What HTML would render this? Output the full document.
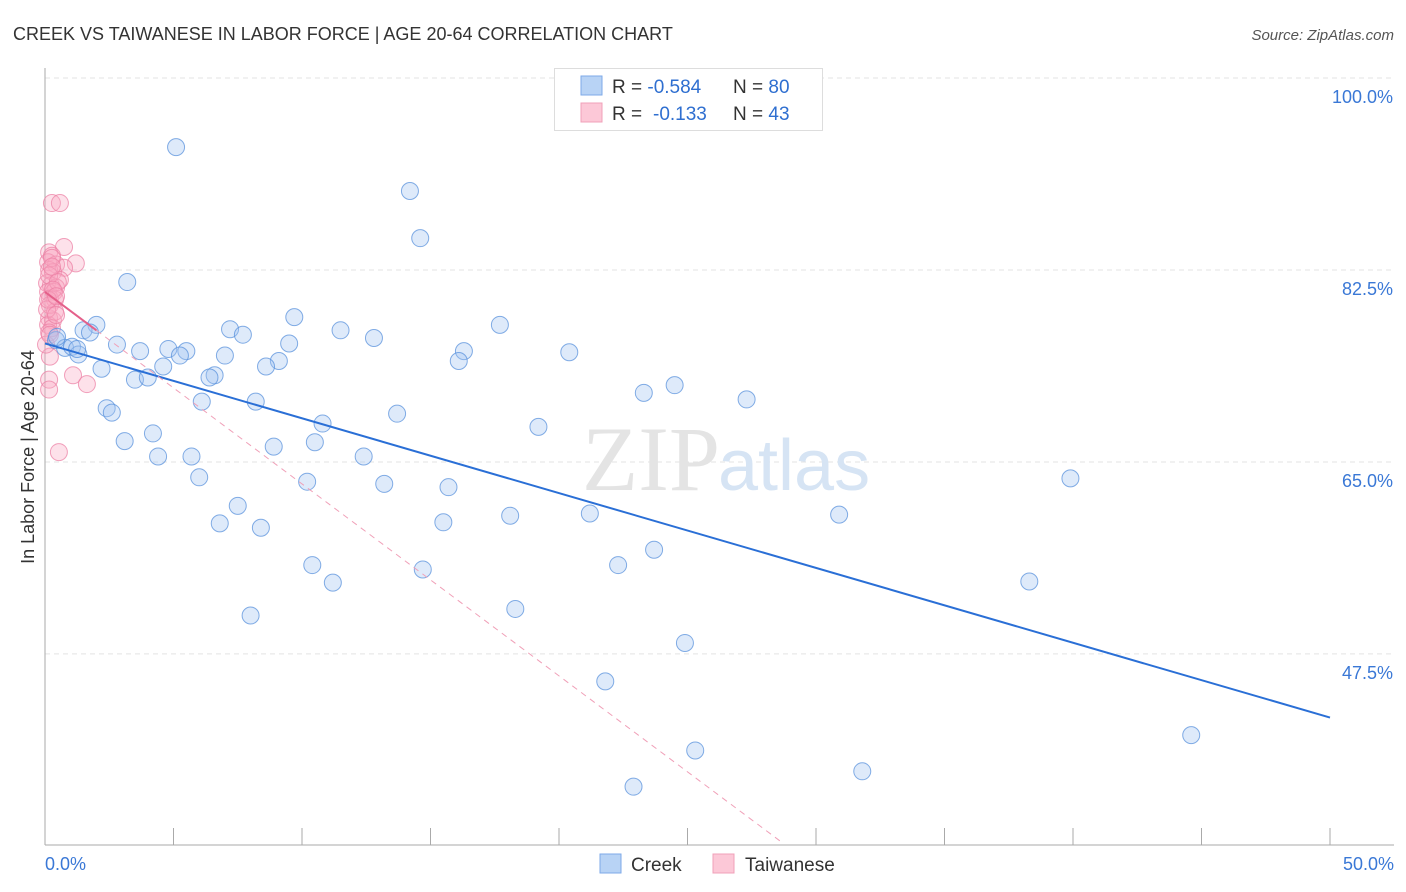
<!DOCTYPE html>
<html><head><meta charset="utf-8"><style>
body{margin:0;background:#fff;font-family:"Liberation Sans",sans-serif;}
svg{display:block}
</style></head><body>
<svg id="chart" width="1406" height="892" xmlns="http://www.w3.org/2000/svg" font-family="Liberation Sans, sans-serif">
<text x="13" y="40" font-size="18" fill="#333">CREEK VS TAIWANESE IN LABOR FORCE | AGE 20-64 CORRELATION CHART</text>
<text x="1394" y="40" font-size="15" fill="#555" font-style="italic" text-anchor="end">Source: ZipAtlas.com</text>
<g id="grid"></g>
<text x="720" y="490" font-size="92" fill="#e4e4e4" text-anchor="end" font-family="Liberation Serif, serif">ZIP</text>
<text x="718" y="490" font-size="72" fill="#d6e4f4">atlas</text>
<g id="marks"></g>
<text transform="translate(34,457) rotate(-90)" font-size="18" fill="#333" text-anchor="middle">In Labor Force | Age 20-64</text>
<g>
<rect x="554.5" y="68.5" width="268" height="62" fill="#fff" stroke="#ddd"/>
<rect x="581" y="76" width="21" height="19" fill="#b8d3f5" stroke="#7eaae8"/>
<rect x="581" y="103" width="21" height="19" fill="#fcc8d7" stroke="#f0a0b8"/>
<text x="612" y="93" font-size="19" fill="#333">R = <tspan fill="#2f6fd0">-0.584</tspan><tspan x="733">N = </tspan><tspan fill="#2f6fd0">80</tspan></text>
<text x="612" y="120" font-size="19" fill="#333">R = <tspan x="653" fill="#2f6fd0">-0.133</tspan><tspan x="733">N = </tspan><tspan fill="#2f6fd0">43</tspan></text>
</g>
<g>
<rect x="600" y="854" width="21" height="19" fill="#b8d3f5" stroke="#7eaae8"/>
<text x="631" y="871" font-size="19" fill="#333">Creek</text>
<rect x="713" y="854" width="21" height="19" fill="#fcc8d7" stroke="#f0a0b8"/>
<text x="745" y="871" font-size="19" fill="#333">Taiwanese</text>
</g>
</svg>
<script>
const yTicks=[47.5,65.0,82.5,100.0];
const xTickLabels=["0.0%","50.0%"];
const creekX=[5.1,14.2,14.6,3.2,9.7,17.7,2.0,1.5,1.75,7.2,11.5,7.7,12.8,0.43,2.8,9.5,0.78,1.05,3.7,4.8,5.5,5.25,7.0,16.3,20.4,1.3,16.1,9.1,8.6,2.2,4.6,6.6,6.4,3.5,4.0,23.3,24.5,27.3,6.1,8.2,2.4,2.6,13.7,10.8,19.2,4.2,3.1,10.5,8.9,4.4,5.7,12.4,6.0,39.9,7.5,10.2,13.2,15.7,6.8,8.4,15.5,18.1,21.2,30.9,23.7,10.4,14.7,22.3,11.2,38.3,18.3,8.0,24.9,21.8,25.3,44.6,31.8,22.9,0.47,1.25];
const creekY=[93.7,89.7,85.4,81.4,78.2,77.5,77.5,77.0,76.8,77.1,77.0,76.6,76.3,76.1,75.7,75.8,75.4,75.5,75.1,75.3,75.1,74.7,74.7,75.1,75.0,74.8,74.2,74.2,73.7,73.5,73.7,72.9,72.7,72.5,72.7,71.3,72.0,70.7,70.5,70.5,69.9,69.5,69.4,68.5,68.2,67.6,66.9,66.8,66.4,65.5,65.5,65.5,63.6,63.5,61.0,63.2,63.0,62.7,59.4,59.0,59.5,60.1,60.3,60.2,57.0,55.6,55.2,55.6,54.0,54.1,51.6,51.0,48.5,45.0,38.7,40.1,36.8,35.4,76.4,75.3];
const taiX=[0.27,0.58,0.74,0.16,0.27,1.2,0.12,0.43,0.74,0.16,0.31,0.58,0.08,0.23,0.43,0.12,0.35,0.19,0.39,0.16,0.31,0.12,0.27,0.16,1.09,1.63,0.19,0.16,0.16,0.54,0.19,0.39,0.08,0.43,0.16,0.27,0.5,0.04,0.19,0.31,0.12,0.27,0.43];
const taiY=[88.6,88.6,84.6,84.1,83.8,83.1,83.2,83.0,82.7,82.5,82.3,81.6,81.3,81.1,80.9,80.5,80.5,79.9,79.8,78.1,77.9,77.5,77.2,76.8,72.9,72.1,74.6,72.5,71.6,65.9,79.3,78.7,78.9,78.4,82.0,83.6,81.4,75.7,76.6,80.7,79.8,82.8,80.1];
const creekTrend=[75.8,41.7];      // y at x=0 and x=50
const taiTrend=[80.5,-1.75];       // intercept, slope per %
const X=v=>45+v*25.7, Y=v=>78+(100-v)*10.97;
const NS="http://www.w3.org/2000/svg";
const grid=document.getElementById('grid'), marks=document.getElementById('marks'), svg=document.getElementById('chart');
function mk(tag,attrs,parent){const e=document.createElementNS(NS,tag);for(const k in attrs)e.setAttribute(k,attrs[k]);parent.appendChild(e);return e;}
yTicks.forEach(t=>{
  const l=mk('line',{x1:45,x2:1394,y1:Y(t),y2:Y(t),stroke:'#e3e3e3','stroke-dasharray':'5,4'},grid);
  
  
  const tx=mk('text',{x:1393,y:Y(t)+25,'font-size':18,fill:'#3a78d6','text-anchor':'end'},grid);
  tx.textContent=t.toFixed(1)+'%';
  
  
});
let a=mk('line',{x1:45,x2:45,y1:68,y2:845,stroke:'#aaa'},grid);


a=mk('line',{x1:45,x2:1394,y1:845,y2:845,stroke:'#aaa'},grid);


for(let i=0;i<=10;i++){
  const t=mk('line',{x1:X(i*5),x2:X(i*5),y1:828,y2:845,stroke:'#aaa'},grid);
  
  
}
[[0,'start',45],[50,'end',1394]].forEach((d,i)=>{
  const tx=mk('text',{x:d[2],y:870,'font-size':18,fill:'#3a78d6','text-anchor':d[1]},grid);
  tx.textContent=xTickLabels[i];
  
  
});
taiX.forEach((x,i)=>{
  const c=mk('circle',{cx:X(x),cy:Y(taiY[i]),r:8.5,fill:'rgba(248,170,195,0.35)',stroke:'rgba(236,130,165,0.75)','stroke-width':1},marks);
  
  
});
creekX.forEach((x,i)=>{
  const c=mk('circle',{cx:X(x),cy:Y(creekY[i]),r:8.5,fill:'rgba(160,195,240,0.35)',stroke:'rgba(90,145,220,0.75)','stroke-width':1},marks);
  
  
});
let ln=mk('line',{x1:X(0),y1:Y(creekTrend[0]),x2:X(50),y2:Y(creekTrend[1]),stroke:'#2a6fd6','stroke-width':2},marks);


const tEnd=28.6;
ln=mk('line',{x1:X(2),y1:Y(taiTrend[0]+taiTrend[1]*2),x2:X(tEnd),y2:Y(taiTrend[0]+taiTrend[1]*tEnd),stroke:'#f0a0b8','stroke-width':1,'stroke-dasharray':'6,5'},marks);


ln=mk('line',{x1:X(0),y1:Y(taiTrend[0]),x2:X(2),y2:Y(taiTrend[0]+taiTrend[1]*2),stroke:'#e4608a','stroke-width':2},marks);


</script>
</body></html>
